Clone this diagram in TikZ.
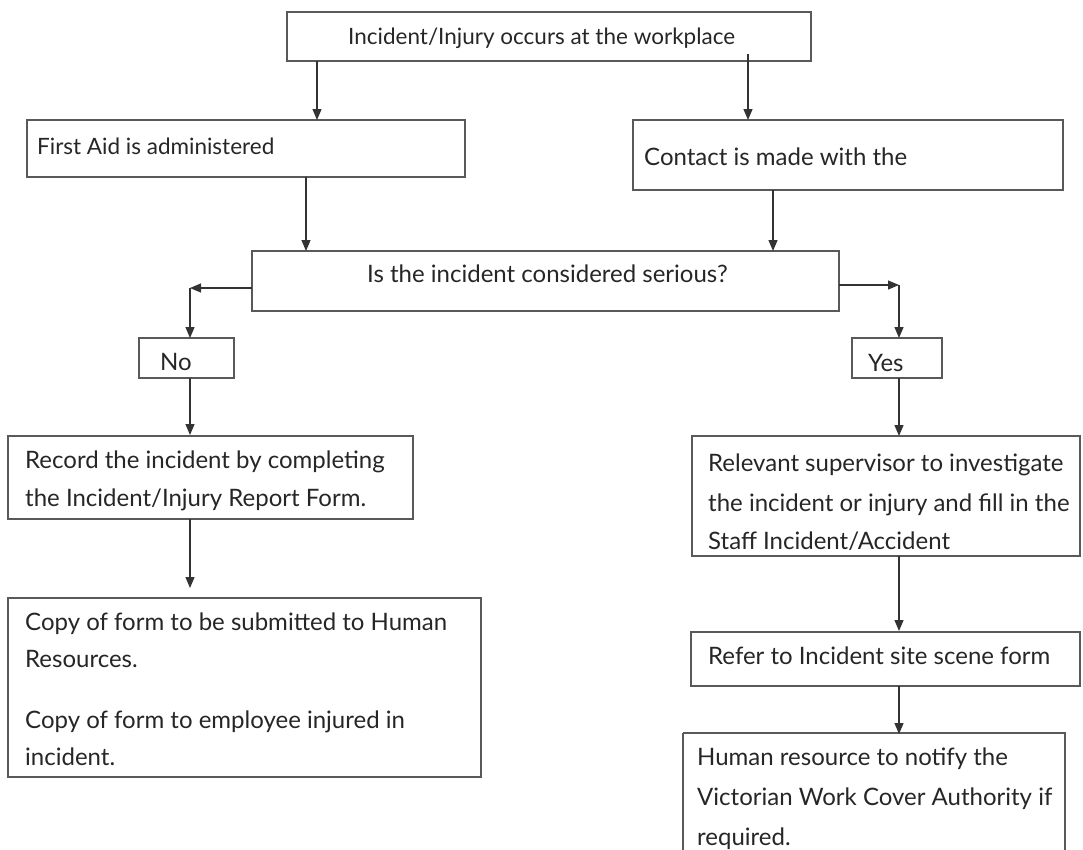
\documentclass[tikz,border=0pt]{standalone}
\usepackage{fontspec}
\setmainfont{Lato}
\usetikzlibrary{arrows.meta}
\begin{document}
\begin{tikzpicture}[x=1pt,y=-1pt,
  box/.style={draw=black!65,line width=1.3pt},
  txt/.style={anchor=base west,inner sep=0pt,font=\fontsize{24}{28}\selectfont,text=black!85},
  txtsm/.style={txt,font=\fontsize{22.5}{26}\selectfont},
  arr/.style={draw=black!80,line width=1.2pt,-{Triangle[length=11pt,width=9pt]}},
  ln/.style={draw=black!80,line width=1.2pt}]
\useasboundingbox (0,0) rectangle (1083,849);
% boxes
\draw[box] (287,12) rectangle (811,61);
\draw[box] (27,120) rectangle (465,177);
\draw[box] (633,120) rectangle (1063,190);
\draw[box] (252,251) rectangle (839,311);
\draw[box] (139,338) rectangle (234,378);
\draw[box] (852,338) rectangle (942,378);
\draw[box] (692,436) rectangle (1080,556);
\draw[box] (8,436) rectangle (413,519);
\draw[box] (691,632) rectangle (1080,686);
\draw[box] (683,733) -- (683,852) (683,733) -- (1065,733) -- (1065,852);
\draw[box] (8,598) rectangle (481,777);
% texts
\node[txtsm] (t0) at (348,44) {Incident/Injury occurs at the workplace};
\node[txtsm] (t1) at (37,154) {First Aid is administered};
\node[txt] (t2) at (644,165) {Contact is made with the};
\node[txt] (t3) at (367,282) {Is the incident considered serious?};
\node[txt] (t4) at (160,370) {No};
\node[txt] (t5) at (868,371) {Yes};
\node[txt] (t6) at (708,471) {Relevant supervisor to investigate};
\node[txt] (t7) at (708,511) {the incident or injury and fill in the};
\node[txt] (t8) at (708,549) {Staff Incident/Accident};
\node[txt] (t9) at (25,468) {Record the incident by completing};
\node[txt] (t10) at (25,506) {the Incident/Injury Report Form.};
\node[txt] (t11) at (708,664) {Refer to Incident site scene form};
\node[txt] (t12) at (697,765) {Human resource to notify the};
\node[txt] (t13) at (697,805) {Victorian Work Cover Authority if};
\node[txt] (t14) at (697,845) {required.};
\node[txt] (t15) at (25,630) {Copy of form to be submitted to Human};
\node[txt] (t16) at (25,667) {Resources.};
\node[txt] (t17) at (25,728) {Copy of form to employee injured in};
\node[txt] (t18) at (25,765) {incident.};
% connectors
\coordinate (a1s) at (317,61); \coordinate (a1e) at (317,120);
\coordinate (a2s) at (748,54); \coordinate (a2e) at (748,120);
\coordinate (a3s) at (306,177); \coordinate (a3e) at (306,251);
\coordinate (a4s) at (773,190); \coordinate (a4e) at (773,251);
\coordinate (l1) at (252,288); \coordinate (l2) at (190,288); \coordinate (l3) at (190,338);
\coordinate (r1) at (839,285); \coordinate (r2) at (899,285); \coordinate (r3) at (899,338);
\coordinate (y1) at (899,378); \coordinate (y2) at (899,436);
\coordinate (y3) at (899,556); \coordinate (y4) at (899,631);
\coordinate (y5) at (899,686); \coordinate (y6) at (899,734);
\coordinate (n1) at (190,378); \coordinate (n2) at (190,435);
\coordinate (n3) at (190,519); \coordinate (n4) at (190,588);
\draw[arr] (a1s) -- (a1e);
\draw[arr] (a2s) -- (a2e);
\draw[arr] (a3s) -- (a3e);
\draw[arr] (a4s) -- (a4e);
\draw[arr] (l1) -- (l2);
\draw[arr] (l2) -- (l3);
\draw[arr] (r1) -- (r2);
\draw[arr] (r2) -- (r3);
\draw[arr] (y1) -- (y2);
\draw[arr] (y3) -- (y4);
\draw[arr] (y5) -- (y6);
\draw[arr] (n1) -- (n2);
\draw[arr] (n3) -- (n4);
\end{tikzpicture}
\end{document}
